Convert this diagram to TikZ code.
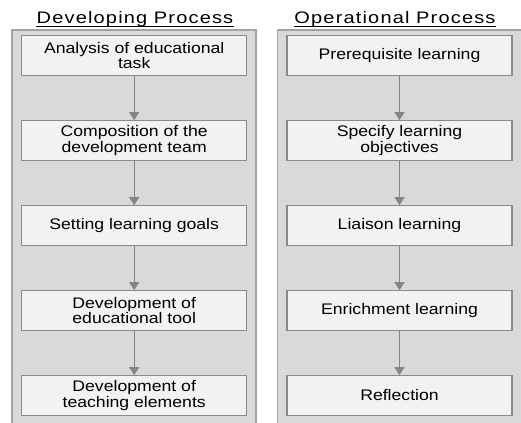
\documentclass[tikz,border=0pt]{standalone}
\usepackage{fontspec}
\setmainfont{Liberation Sans}
\newfontfamily\boxfont[FakeStretch=1.15]{Liberation Sans}
\newfontfamily\headfont[FakeStretch=1.2,LetterSpace=7]{Liberation Sans}
\usetikzlibrary{positioning, arrows.meta}
\definecolor{panelfill}{HTML}{D9D9D9}
\definecolor{paneledge}{HTML}{A3A3A3}
\definecolor{boxfill}{HTML}{F2F2F2}
\definecolor{boxedge}{HTML}{8A8A8A}
\definecolor{arrowgray}{HTML}{858585}

\begin{document}
\begin{tikzpicture}[x=0.75pt, y=-0.75pt, node distance=63.75pt,
        stage/.style={draw=boxedge, fill=boxfill, rectangle, line width=0.9pt,
                minimum width=168.75pt, minimum height=29.6pt, inner sep=0pt,
                align=center, font=\boxfont\fontsize{11.5}{11.8}\selectfont},
        heading/.style={inner sep=0pt, anchor=base, font=\headfont\fontsize{12.5}{14}\selectfont},
        panel/.style={fill=panelfill, draw=paneledge, line width=1.3pt},
        flow/.style={-{Triangle[width=7.5pt,length=6pt]}, color=arrowgray, line width=0.9pt}]
        \useasboundingbox (0,0) rectangle (521,423);

%% panels
        \draw [panel] (11.7,30) rectangle (256,430);
        \draw [panel] (277.5,30) rectangle (530,430);

%% headings
        \node [heading] (devhead) at (135,24) {Developing Process};
        \node [heading] (ophead) at (395,24) {Operational Process};
        \draw [black, line width=0.7pt] ([yshift=-2.2pt]devhead.base west) -- ([yshift=-2.2pt]devhead.base east);
        \draw [black, line width=0.7pt] ([yshift=-2.2pt]ophead.base west) -- ([yshift=-2.2pt]ophead.base east);

%% developing process
        \node [stage] (analysis) at (134.2,55.5) {Analysis of educational\\task};
        \node [stage, below of = analysis] (composition) {Composition of the\\development team};
        \node [stage, below of = composition] (goals) {Setting learning goals};
        \node [stage, below of = goals] (tooldev) {Development of\\educational tool};
        \node [stage, below of = tooldev] (elements) {Development of\\teaching elements};

%% operational process
        \node [stage] (prereq) at (399.5,55.5) {Prerequisite learning};
        \node [stage, below of = prereq] (objectives) {Specify learning\\objectives};
        \node [stage, below of = objectives] (liaison) {Liaison learning};
        \node [stage, below of = liaison] (enrich) {Enrichment learning};
        \node [stage, below of = enrich] (reflect) {Reflection};

%% paths
        \path [flow]
                (analysis) edge (composition)
                (composition) edge (goals)
                (goals) edge (tooldev)
                (tooldev) edge (elements)
                (prereq) edge (objectives)
                (objectives) edge (liaison)
                (liaison) edge (enrich)
                (enrich) edge (reflect)
                ;
\end{tikzpicture}
\end{document}
